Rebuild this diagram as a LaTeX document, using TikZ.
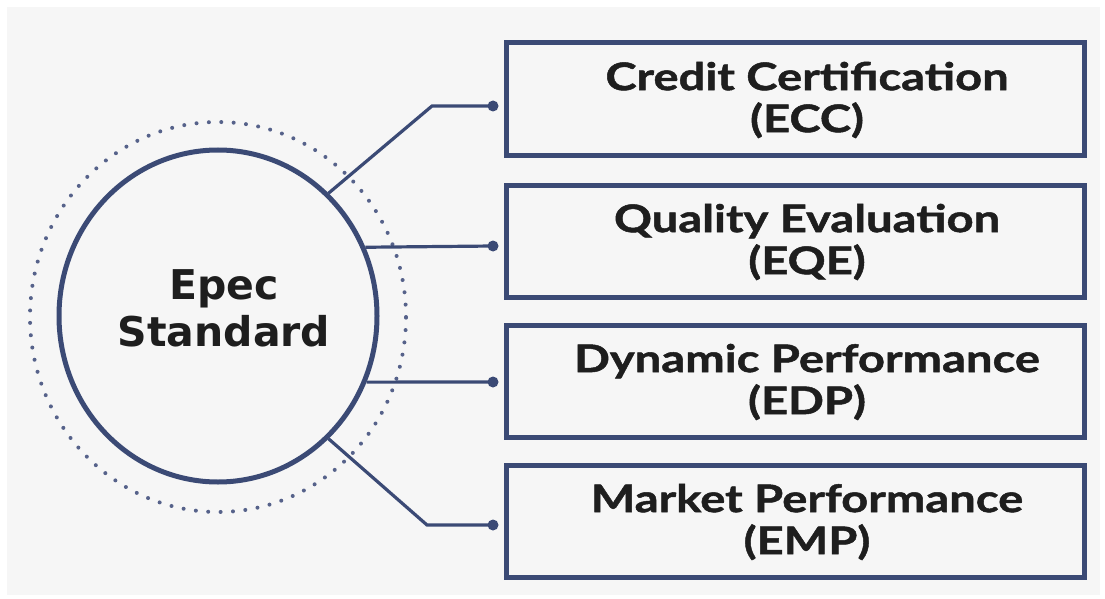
\documentclass[tikz,border=0pt]{standalone}
\usepackage{fontspec}
\usetikzlibrary{shapes.geometric}
\newfontfamily\hubfont{DejaVu Sans}
\newfontfamily\boxfont[FakeStretch=1.24,FakeBold=1.3]{Lato}
\definecolor{navy}{HTML}{3B4A75}
\definecolor{dotc}{HTML}{56628A}
\definecolor{panel}{HTML}{F6F6F6}
\definecolor{ink}{HTML}{1E1E1E}
\begin{document}
\begin{tikzpicture}[x=1pt,y=-1pt,
  hub/.style={ellipse, draw=navy, line width=5pt, minimum width=318pt, minimum height=332pt, inner sep=0pt, fill=panel},
  halo/.style={ellipse, draw=dotc, line width=4pt, line cap=round, dash pattern=on 0pt off 12.4pt, minimum width=376pt, minimum height=390pt, inner sep=0pt},
  hubtext/.style={font=\hubfont\bfseries\fontsize{41}{47}\selectfont, text=ink, align=center, inner sep=0pt},
  card/.style={rectangle, draw=navy, line width=5pt, minimum width=578pt, minimum height=112pt, inner sep=0pt, fill=panel},
  cardtext/.style={font=\boxfont\bfseries\fontsize{38}{42}\selectfont, text=ink, align=center, inner sep=0pt},
  link/.style={draw=navy, line width=3.2pt},
  pin/.style={circle, fill=navy, minimum size=11pt, inner sep=0pt}
]
\useasboundingbox[fill=white] (0,0) rectangle (1105,599);
\fill[panel] (7,7) rectangle (1100,595);

\node[halo] (halo) at (218,317) {};
\node[hub] (hub) at (218,316) {};
\node[hubtext] (hubt) at (224,308) {Epec\\Standard};

\node[card] (c1) at (795,99) {};
\node[card] (c2) at (795,241) {};
\node[card] (c3) at (795,381) {};
\node[card] (c4) at (795,521) {};

\node[cardtext] (t1) at (807,100) {Credit Certification\\(ECC)};
\node[cardtext] (t2) at (807,242) {Quality Evaluation\\(EQE)};
\node[cardtext] (t3) at (807,382) {Dynamic Performance\\(EDP)};
\node[cardtext] (t4) at (807,522) {Market Performance\\(EMP)};

\node[pin] (p1) at (493,106) {};
\node[pin] (p2) at (493,246) {};
\node[pin] (p3) at (493,382) {};
\node[pin] (p4) at (493,525) {};
\coordinate (b1) at (432,106);
\coordinate (b4) at (427,525);

\draw[link] (hub.48) -- (b1) -- (p1.center);
\draw[link] (hub.25) -- (p2.center);
\draw[link] (hub.-24) -- (p3.center);
\draw[link] (hub.-48.5) -- (b4) -- (p4.center);
\end{tikzpicture}
\end{document}
